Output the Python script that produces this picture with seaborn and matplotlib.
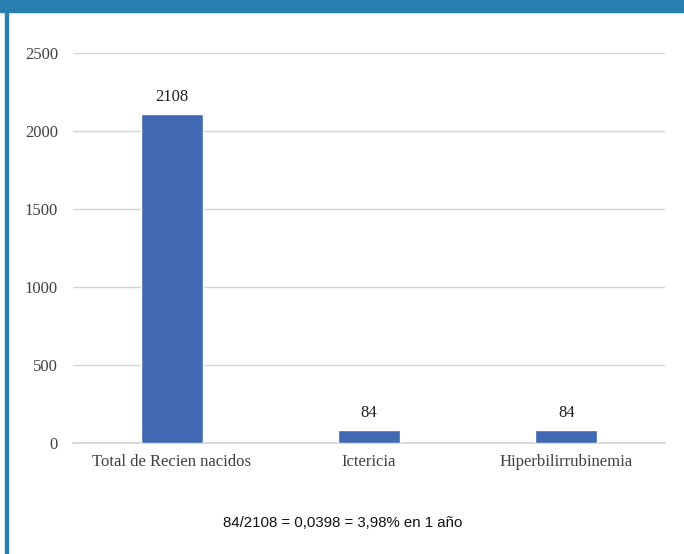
import matplotlib
matplotlib.use("Agg")
import matplotlib.pyplot as plt
import seaborn as sns
import pandas as pd
from matplotlib.patches import Rectangle

# data
categories = ["Total de Recien nacidos", "Ictericia", "Hiperbilirrubinemia"]
values = [2108, 84, 84]
yticks = [0, 500, 1000, 1500, 2000, 2500]
caption = "84/2108 = 0,0398 = 3,98% en 1 año"

df = pd.DataFrame({"cat": categories, "val": values})

sns.set_theme(style="white")
plt.rcParams["font.family"] = ["Liberation Serif", "DejaVu Serif"]

fig = plt.figure(figsize=(6.84, 5.54), dpi=100)
ax = fig.add_axes([0.1067, 0.2004, 0.8655, 0.7039])

sns.barplot(data=df, x="cat", y="val", color="#4169b1", width=0.315,
            saturation=1, ax=ax, zorder=3)
ax.set_ylim(0, 2500)
ax.set_yticks(yticks)
ax.set_xlim(-0.5, 2.5)
ax.yaxis.grid(True, color="#d4d4d4", lw=1, zorder=0)
ax.set_axisbelow(True)
for s in ["top", "right", "left"]:
    ax.spines[s].set_visible(False)
ax.spines["bottom"].set_color("#d4d4d4")
ax.set_xlabel(""); ax.set_ylabel("")
ax.tick_params(axis="y", labelsize=12, labelcolor="#404040", length=0, pad=10.8)
ax.tick_params(axis="x", labelsize=12, labelcolor="#404040", length=0, pad=8)

for i, v in enumerate(values):
    ax.annotate(str(v), (i, v), xytext=(0, 6.5), textcoords="offset points",
                ha="center", va="bottom", fontsize=12, color="#202020")

fig.text(0.5015, 0.056, caption, ha="center", va="center", fontsize=10.8,
         family=["Liberation Sans", "DejaVu Sans"], color="#111111")

# blue frame
fig.patches.append(Rectangle((0, 1 - 12 / 554), 1, 12 / 554, transform=fig.transFigure,
                             color="#2980b0", zorder=10))
fig.patches.append(Rectangle((5 / 684, 0), 3 / 684, 1, transform=fig.transFigure,
                             color="#2980b0", zorder=10))

plt.savefig("out.png", dpi=100)
